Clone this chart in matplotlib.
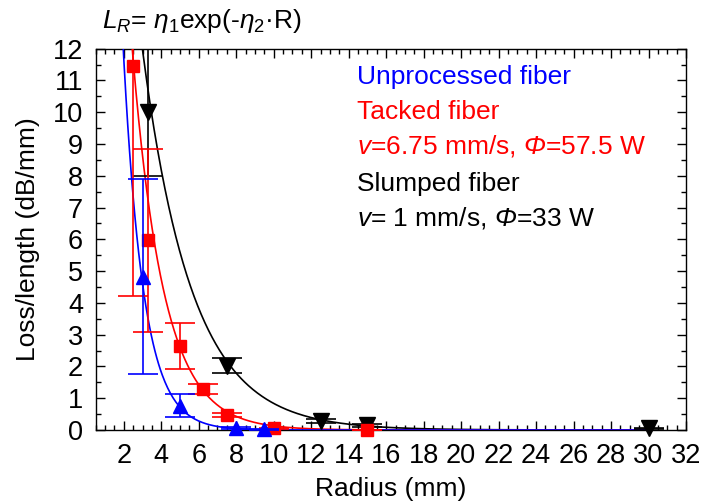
import numpy as np
import matplotlib
matplotlib.use("Agg")
import matplotlib.pyplot as plt
from matplotlib.ticker import MultipleLocator

plt.rcParams["font.family"] = ["Liberation Sans", "DejaVu Sans"]
plt.rcParams["mathtext.fontset"] = "custom"
plt.rcParams["mathtext.it"] = "Liberation Sans:italic"
plt.rcParams["mathtext.rm"] = "Liberation Sans:italic"
plt.rcParams["mathtext.sf"] = "Liberation Sans"

# Measured bend loss per unit length vs. bend radius
r_unproc = [3.0, 5.0, 8.0, 9.5]
loss_unproc = [4.82, 0.77, 0.05, 0.02]
err_unproc = [3.07, 0.35, 0.03, 0.02]

r_tacked = [2.5, 3.3, 5.0, 6.25, 7.5, 10.0, 15.0]
loss_tacked = [11.45, 5.97, 2.65, 1.29, 0.47, 0.05, 0.0]
err_tacked = [7.23, 2.88, 0.73, 0.16, 0.06, 0.02, 0.01]

r_slumped = [3.3, 7.5, 12.5, 15.0, 30.0]
loss_slumped = [10.0, 2.02, 0.28, 0.15, 0.05]
err_slumped = [2.0, 0.24, 0.07, 0.05, 0.02]

# Exponential fit parameters  L_R = eta1 * exp(-eta2 * R)
eta_unproc = (75.0, 0.93)
eta_tacked = (52.2, 0.60)
eta_slumped = (37.4, 0.38)

x_ticks = list(range(2, 33, 2))
y_ticks = list(range(0, 13))

BLUE = "#0000FF"
RED = "#FF0000"
BLACK = "#000000"

fig = plt.figure(figsize=(7.02, 5.03), dpi=100)
ax = fig.add_axes([0.1363, 0.1451, 0.8409, 0.7581])

r_fit = np.linspace(1.0, 30.0, 600)
for (e1, e2), col, z in [(eta_slumped, BLACK, 2), (eta_tacked, RED, 3), (eta_unproc, BLUE, 4)]:
    ax.plot(r_fit, e1 * np.exp(-e2 * r_fit), color=col, lw=1.2, zorder=z)

cap = 10.8
series = [
    (r_slumped, loss_slumped, err_slumped, BLACK, "v", 11),
    (r_tacked, loss_tacked, err_tacked, RED, "s", 8.5),
    (r_unproc, loss_unproc, err_unproc, BLUE, "^", 10.5),
]
for i, (x, y, e, col, mk, ms) in enumerate(series):
    eb = ax.errorbar(x, y, yerr=e, fmt=mk, color=col, ms=ms, mec=col, mfc=col,
                     elinewidth=1.2, capsize=cap, capthick=1.2, zorder=5 + i)
    eb[0].set_clip_on(False)

ax.set_xlim(0.5, 32)
ax.set_ylim(0, 12)
ax.set_xticks(x_ticks)
ax.set_yticks(y_ticks)
ax.xaxis.set_minor_locator(MultipleLocator(0.5))
ax.yaxis.set_minor_locator(MultipleLocator(0.5))
ax.tick_params(which="both", direction="in", top=True, right=True, labelsize=19.5, width=1.0)
ax.tick_params(which="major", length=6.5)
ax.tick_params(which="minor", length=3.3)
ax.tick_params(axis="x", which="major", pad=9)
ax.tick_params(axis="y", which="major", pad=9)
for s in ax.spines.values():
    s.set_linewidth(1.0)

ax.set_xlabel("Radius (mm)", fontsize=19, labelpad=6)
ax.set_ylabel("Loss/length (dB/mm)", fontsize=19, labelpad=9)

fig.text(0.146, 0.958, r"$L_R$= $\eta_\mathsf{1}$exp(-$\eta_\mathsf{2}$·R)",
         fontsize=19, ha="left", va="center")

tx = 0.508
ax_text = [
    (0.846, "Unprocessed fiber", BLUE),
    (0.778, "Tacked fiber", RED),
    (0.710, r"$v$=6.75 mm/s, $\Phi$=57.5 W", RED),
    (0.634, "Slumped fiber", BLACK),
    (0.566, r"$v$= 1 mm/s, $\Phi$=33 W", BLACK),
]
for yy, s, col in ax_text:
    fig.text(tx, yy, s, fontsize=19, color=col, ha="left", va="center")

fig.savefig("out.png", dpi=100)
